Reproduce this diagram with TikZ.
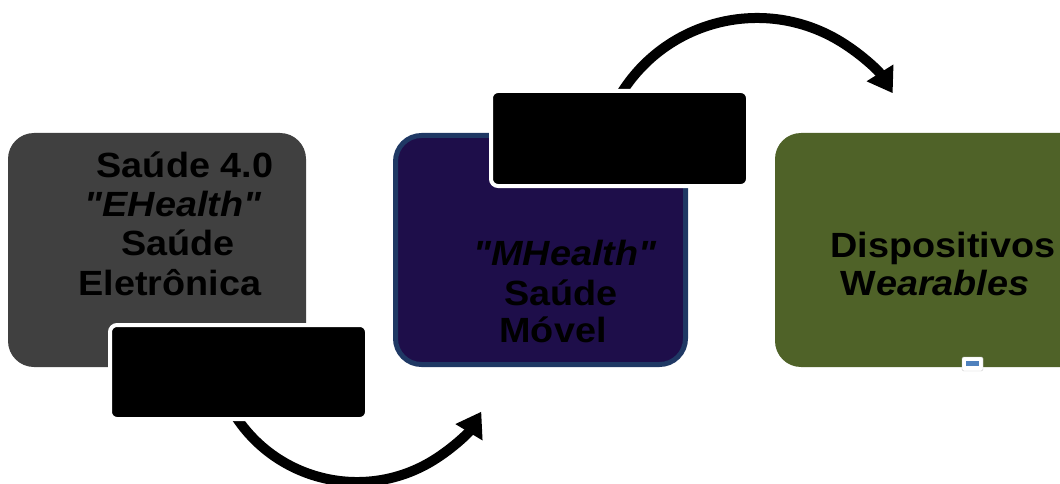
\documentclass[tikz,border=0pt]{standalone}
\usepackage{fontspec}
\setmainfont{Liberation Sans}
\newfontfamily\boxfont[FakeStretch=1.08]{Liberation Sans}
\usetikzlibrary{arrows.meta}
\definecolor{grayfill}{HTML}{404040}
\definecolor{purplefill}{HTML}{1E0E4A}
\definecolor{blueedge}{HTML}{1F3864}
\definecolor{olivefill}{HTML}{4F6228}
\definecolor{tinyblue}{HTML}{4F81BD}
\tikzset{
  bigbox/.style={rounded corners=26pt},
  blackbox/.style={fill=black, draw=white, line width=4pt, rounded corners=7pt},
  lbl/.style={anchor=base, inner sep=0pt, font=\boxfont\fontsize{35}{40}\selectfont\bfseries, text=black},
  bendarrow/.style={line width=10pt, -{Triangle[length=24pt,width=30pt]}}
}
\begin{document}
\begin{tikzpicture}[x=1pt,y=-1pt]
\useasboundingbox (0,0) rectangle (1060,484);
% main boxes
\path[bigbox, fill=grayfill] (8,133) rectangle (306,367);
\path[bigbox, fill=purplefill, draw=blueedge, line width=5pt] (395.5,135.5) rectangle (685.5,364.5);
\path[bigbox, fill=olivefill] (775,133) rectangle (1086,367);
% arrows
\coordinate (c1) at (357,337);
\coordinate (c2) at (757,178);
\draw[bendarrow] ([shift={(150:145)}]c1) arc[start angle=150, end angle=31, radius=145];
\draw[bendarrow] ([shift={(-150:160)}]c2) arc[start angle=-150, end angle=-32, radius=160];
% black boxes
\path[blackbox] (110,325) rectangle (367,419);
\path[blackbox] (491,91) rectangle (748,186);
% small artifact
\path[fill=white, draw=gray!40, rounded corners=1.5pt] (962,357) rectangle (983,371);
\path[fill=tinyblue] (966,361) rectangle (979,366);
% texts box 1
\node[lbl] (a1) at (185,178) {Saúde 4.0};
\node[lbl] (a2) at (173,216) {\itshape "EHealth"};
\node[lbl] (a3) at (178,255) {Saúde};
\node[lbl] (a4) at (170,295) {Eletrônica};
% texts box 2
\node[lbl] (b1) at (565,265) {\itshape "MHealth"};
\node[lbl] (b2) at (561,305) {Saúde};
\node[lbl] (b3) at (553,342) {Móvel};
% texts box 3
\node[lbl] (d1) at (943,257) {Dispositivos};
\node[lbl] (d2) at (935,295) {W\itshape earables};
\end{tikzpicture}
\end{document}
